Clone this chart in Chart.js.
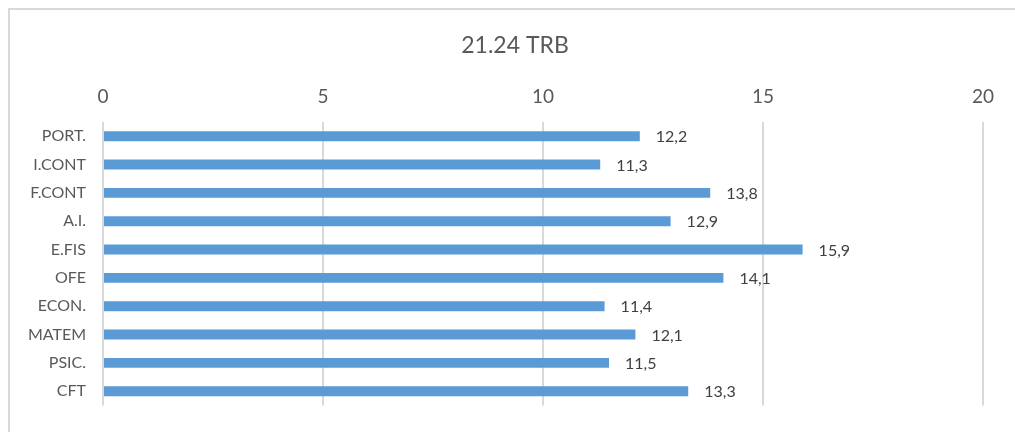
<!DOCTYPE html>
<html lang="pt">
<head>
    <meta charset="UTF-8">
    <title>21.24 TRB</title>
    <script src="https://cdn.jsdelivr.net/npm/chart.js"></script>
    <style>
        body { margin: 0; background: #fff; }
        #moldura { position: absolute; left: 8px; top: 8px; width: 1100px; height: 600px; border: 2px solid #d9d9d9; }
        #grafico { position: absolute; left: 0; top: 0; }
    </style>
</head>
<body>
    <div id="moldura"></div>
    <canvas id="grafico" width="1015" height="432"></canvas>

    <script>
        // dados
        const disciplinas = ["PORT.", "I.CONT", "F.CONT", "A.I.", "E.FIS", "OFE", "ECON.", "MATEM", "PSIC.", "CFT"];
        const medias = [12.2, 11.3, 13.8, 12.9, 15.9, 14.1, 11.4, 12.1, 11.5, 13.3];
        const eixoMin = 0;
        const eixoMax = 20;
        const eixoPasso = 5;
        const titulo = "21.24 TRB";

        const fonte = "Lato, 'Open Sans', sans-serif";

        // título centrado na moldura (como no Excel), não no canvas
        const tituloMoldura = {
            id: "tituloMoldura",
            afterDraw(chart) {
                const ctx = chart.ctx;
                ctx.save();
                ctx.font = "23px " + fonte;
                ctx.fillStyle = "#595959";
                ctx.textAlign = "center";
                ctx.textBaseline = "middle";
                ctx.fillText(titulo, 515, 46);
                ctx.restore();
            }
        };

        // rótulos de valor à direita de cada barra
        const rotulosValor = {
            id: "rotulosValor",
            afterDatasetsDraw(chart) {
                const ctx = chart.ctx;
                const meta = chart.getDatasetMeta(0);
                ctx.save();
                ctx.font = "16px " + fonte;
                ctx.fillStyle = "#404040";
                ctx.textAlign = "left";
                ctx.textBaseline = "middle";
                meta.data.forEach((barra, i) => {
                    const texto = medias[i].toFixed(1).replace(".", ",");
                    ctx.fillText(texto, barra.x + 16, barra.y + 1);
                });
                ctx.restore();
            }
        };

        new Chart(document.getElementById("grafico"), {
            type: "bar",
            data: {
                labels: disciplinas,
                datasets: [{
                    data: medias,
                    backgroundColor: "#5b9bd5",
                    barPercentage: 0.35,
                    categoryPercentage: 1
                }]
            },
            options: {
                indexAxis: "y",
                responsive: false,
                animation: false,
                layout: { padding: { left: 8, right: 32, top: 0, bottom: 24 } },
                plugins: {
                    legend: { display: false },
                    tooltip: { enabled: false },
                    title: { display: false }
                },
                scales: {
                    x: {
                        position: "top",
                        min: eixoMin,
                        max: eixoMax,
                        ticks: {
                            stepSize: eixoPasso,
                            color: "#595959",
                            font: { family: fonte, size: 19 },
                            padding: 14
                        },
                        grid: { color: "#d9d9d9", lineWidth: 2, drawTicks: false },
                        border: { display: false },
                        afterFit(escala) { escala.height = 122; }
                    },
                    y: {
                        ticks: {
                            color: "#595959",
                            font: { family: fonte, size: 16 },
                            padding: 17
                        },
                        grid: { display: false, drawTicks: false },
                        border: { display: false },
                        afterFit(escala) { escala.width = 95; }
                    }
                }
            },
            plugins: [rotulosValor, tituloMoldura]
        });
    </script>
</body>
</html>
